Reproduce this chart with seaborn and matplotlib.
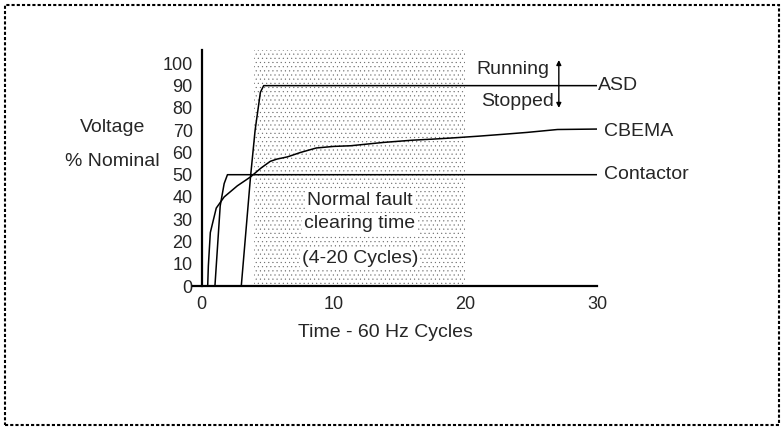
import matplotlib
matplotlib.use('Agg')
import matplotlib.pyplot as plt
import seaborn as sns
import pandas as pd
from matplotlib.patches import Rectangle

# curve values (x = cycles, y = % nominal voltage)
asd_x = [3.0, 3.7, 4.05, 4.45, 4.7, 30]
asd_y = [0, 49, 70, 87, 90, 90]
contactor_x = [1.0, 1.4, 1.7, 1.95, 30]
contactor_y = [0, 36, 46, 50, 50]
cbema_x = [0.45, 0.5, 0.65, 1.1, 1.7, 2.7, 3.7, 4.5, 5.2, 5.7, 6.5, 7.5, 8.7, 10.0,
           11.3, 13.8, 16.0, 17.6, 19.0, 21.0, 23.0, 24.7, 27.0, 30]
cbema_y = [0, 9, 24, 35, 40, 45, 49, 53, 56, 57, 58, 60, 62, 62.7,
           63, 64.5, 65.5, 66, 66.5, 67.3, 68.2, 69, 70.3, 70.5]

curve_names = ['ASD', 'CBEMA', 'Contactor']
curve_label_y = [90, 69.5, 50]
fault_window = [4, 20]
fault_text = ['Normal fault', 'clearing time', '(4-20 Cycles)']
fault_text_y = [38.5, 28, 12.5]

x_major = [0, 10, 20, 30]
x_minor = list(range(0, 31, 2))
y_ticks = list(range(0, 101, 10))

sns.set_style('white')
plt.rcParams['font.family'] = ['Liberation Sans', 'DejaVu Sans']
plt.rcParams['hatch.linewidth'] = 0.3
plt.rcParams['hatch.color'] = '#666666'

fig = plt.figure(figsize=(7.83, 4.29), dpi=100)
ax = fig.add_axes([0.2469, 0.3333, 0.5156, 0.5501])

# stippled fault-clearing window
ax.axvspan(fault_window[0], fault_window[1], facecolor='white', edgecolor='#666666',
           hatch='....', lw=0, zorder=1)

frames = [
    pd.DataFrame({'x': asd_x, 'y': asd_y, 'curve': 'ASD'}),
    pd.DataFrame({'x': cbema_x, 'y': cbema_y, 'curve': 'CBEMA'}),
    pd.DataFrame({'x': contactor_x, 'y': contactor_y, 'curve': 'Contactor'}),
]
df = pd.concat(frames, ignore_index=True)
sns.lineplot(data=df, x='x', y='y', units='curve', estimator=None, sort=False,
             color='black', lw=1.1, ax=ax, zorder=3)

for name, yv in zip(curve_names, curve_label_y):
    ax.text(30.1 if name == 'ASD' else 30.5, yv, name, ha='left', va='center',
            fontsize=14, clip_on=False)

for line, yv in zip(fault_text, fault_text_y):
    ax.text(12.0, yv, line, ha='center', va='center', fontsize=14, zorder=4,
            bbox=dict(facecolor='white', edgecolor='none', pad=1.5))

# running / stopped arrow
ax.annotate('', xy=(27.1, 101.5), xytext=(27.1, 80), zorder=4,
            arrowprops=dict(arrowstyle='<|-|>', lw=1, color='black',
                            mutation_scale=7, shrinkA=0, shrinkB=0))
ax.text(26.4, 97.3, 'Running', ha='right', va='center', fontsize=14)
ax.text(26.7, 83, 'Stopped', ha='right', va='center', fontsize=14)

ax.text(-6.8, 71, 'Voltage', ha='center', va='center', fontsize=14, clip_on=False)
ax.text(-6.8, 56, '% Nominal', ha='center', va='center', fontsize=14, clip_on=False)

ax.set_xlim(-0.64, 30)
ax.set_ylim(0, 106)
ax.spines['left'].set_position(('data', 0))
ax.spines['top'].set_visible(False)
ax.spines['right'].set_visible(False)
for s in ['left', 'bottom']:
    ax.spines[s].set_linewidth(1.6)
    ax.spines[s].set_color('black')

ax.set_xticks(x_major)
ax.set_xticks(x_minor, minor=True)
ax.set_yticks(y_ticks)
ax.tick_params(axis='both', which='both', direction='out', length=5.5, width=1.6,
               color='black', labelsize=13)
ax.tick_params(axis='x', pad=2)
ax.tick_params(axis='y', pad=1)
ax.set_xlabel('Time - 60 Hz Cycles', fontsize=14)
ax.xaxis.set_label_coords(0.475, -0.16)
ax.set_ylabel('')

# dotted frame around the whole picture
fig.patches.append(Rectangle((5 / 783, 4 / 429), 774 / 783, 420 / 429,
                             transform=fig.transFigure, fill=False,
                             edgecolor='black', lw=1.5, linestyle=(0, (1.5, 1))))

fig.savefig('out.png', dpi=100)
